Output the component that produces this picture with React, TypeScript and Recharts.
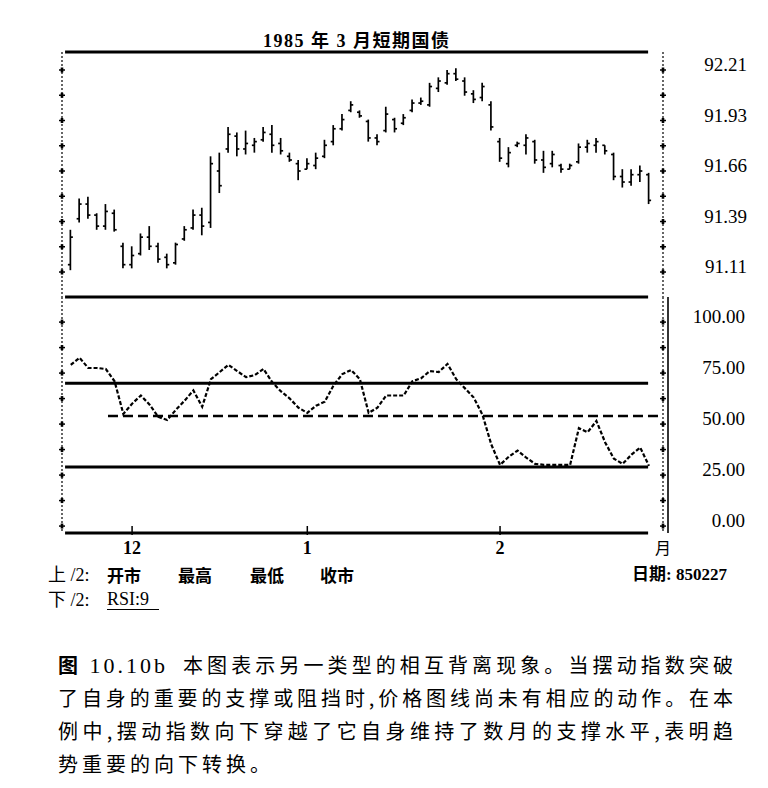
import React from "react";
import { ComposedChart, Bar, Line, XAxis, YAxis, ReferenceLine } from "recharts";

// ---- data ----
const highs = [91.34, 91.51, 91.52, 91.43, 91.48, 91.45, 91.27, 91.25, 91.32, 91.36,
  91.27, 91.21, 91.27, 91.36, 91.45, 91.46, 91.74, 91.76, 91.90, 91.87,
  91.88, 91.84, 91.90, 91.91, 91.84, 91.76, 91.72, 91.73, 91.76, 91.83,
  91.91, 91.97, 92.04, 91.99, 91.94, 91.86, 92.01, 91.95, 91.97, 92.05,
  92.06, 92.14, 92.17, 92.21, 92.22, 92.17, 92.10, 92.14, 92.04, 91.84,
  91.79, 91.82, 91.86, 91.83, 91.77, 91.77, 91.70, 91.70, 91.81, 91.83,
  91.84, 91.80, 91.76, 91.67, 91.67, 91.69, 91.65];
const lows = [91.12, 91.38, 91.40, 91.34, 91.34, 91.33, 91.13, 91.13, 91.20, 91.23,
  91.16, 91.13, 91.15, 91.28, 91.34, 91.31, 91.35, 91.54, 91.76, 91.74,
  91.75, 91.76, 91.82, 91.76, 91.75, 91.71, 91.61, 91.67, 91.67, 91.73,
  91.80, 91.88, 91.98, 91.95, 91.82, 91.80, 91.87, 91.87, 91.91, 91.98,
  92.02, 92.01, 92.09, 92.13, 92.15, 92.07, 92.03, 92.04, 91.88, 91.71,
  91.68, 91.79, 91.75, 91.70, 91.65, 91.68, 91.65, 91.67, 91.70, 91.76,
  91.76, 91.75, 91.61, 91.57, 91.58, 91.60, 91.48];
const opens = [91.15, 91.40, 91.48, 91.42, 91.36, 91.43, 91.25, 91.15, 91.21, 91.30,
  91.25, 91.19, 91.16, 91.29, 91.35, 91.42, 91.38, 91.66, 91.78, 91.85,
  91.78, 91.80, 91.83, 91.86, 91.81, 91.74, 91.70, 91.67, 91.69, 91.74,
  91.82, 91.89, 91.99, 91.98, 91.93, 91.84, 91.88, 91.94, 91.92, 91.99,
  92.03, 92.02, 92.11, 92.14, 92.19, 92.15, 92.08, 92.06, 92.02, 91.82,
  91.70, 91.80, 91.80, 91.82, 91.72, 91.70, 91.69, 91.67, 91.71, 91.79,
  91.80, 91.80, 91.75, 91.63, 91.60, 91.64, 91.64];
const closes = [91.30, 91.48, 91.42, 91.36, 91.44, 91.34, 91.15, 91.20, 91.30, 91.25,
  91.18, 91.15, 91.26, 91.34, 91.42, 91.36, 91.70, 91.58, 91.86, 91.78,
  91.81, 91.82, 91.87, 91.80, 91.77, 91.72, 91.66, 91.70, 91.73, 91.80,
  91.89, 91.94, 92.02, 91.96, 91.84, 91.82, 91.97, 91.89, 91.95, 92.03,
  92.04, 92.12, 92.15, 92.19, 92.16, 92.09, 92.05, 92.12, 91.90, 91.73,
  91.76, 91.81, 91.84, 91.72, 91.68, 91.75, 91.67, 91.69, 91.79, 91.81,
  91.82, 91.77, 91.63, 91.60, 91.64, 91.66, 91.50];
const rsi9 = [79, 82.5, 77.5, 77.5, 77, 71, 55, 60, 64, 59.5,
  53.5, 52, 57, 61.5, 66.5, 58.5, 72, 75.5, 79, 76,
  73, 74, 77, 70.5, 66, 62.5, 58, 55.5, 59, 61,
  69, 74.5, 76.5, 72, 55.5, 58, 64, 64, 64, 71,
  72.5, 76, 75.5, 79.5, 72, 67.5, 63, 54.5, 40, 30,
  34, 37, 33.5, 30.5, 30, 30, 30, 30, 48, 46,
  51.5, 41, 33, 30.5, 35, 38.5, 29.5];

const priceTicks = [91.11, 91.2475, 91.385, 91.5225, 91.66, 91.7975, 91.935, 92.0725, 92.21];
const priceTickLabels = ["91.11", "", "91.39", "", "91.66", "", "91.93", "", "92.21"];
const rsiTicks = [0, 12.5, 25, 37.5, 50, 62.5, 75, 87.5, 100];
const rsiTickLabels = ["0.00", "", "25.00", "", "50.00", "", "75.00", "", "100.00"];
const monthTicks = [8, 28, 50];
const monthLabels = ["12", "1", "2"];
const monthUnit = "月";
const rsiUpper = 70;
const rsiLower = 29;
const rsiSupport = 54;

// ---- layout constants ----
const X_DOMAIN: [number, number] = [0, 68.6];
const PRICE_DOMAIN: [number, number] = [90.974, 92.308];
const RSI_DOMAIN: [number, number] = [-3.4, 112.3];
const FRAME_X0 = 0.35;
const FRAME_X1 = 66.9;
const DASH_X0 = 5.25;
const DASH_X1 = 68.3;

const data = highs.map((h, i) => ({
  idx: i + 1,
  high: h,
  low: lows[i],
  open: opens[i],
  close: closes[i],
  rsi: rsi9[i],
}));

const SERIF = '"Liberation Serif", "Times New Roman", serif';
const CJK = '"Liberation Serif", "Noto Sans CJK SC", serif';
const SANS_CJK = '"Noto Sans CJK SC", sans-serif';

const PriceBarShape = (props: any) => {
  const { x, y, width, height, payload } = props;
  const cx = x + width / 2;
  const top = Math.min(y, y + height);
  const h = Math.abs(height);
  const span = payload.high - payload.low || 1;
  const oy = top + ((payload.high - payload.open) / span) * h;
  const cy = top + ((payload.high - payload.close) / span) * h;
  return (
    <g stroke="#000" strokeWidth={1.7}>
      <line x1={cx} x2={cx} y1={top} y2={top + h} />
      <line x1={cx - 2.5} x2={cx} y1={oy} y2={oy} />
      <line x1={cx} x2={cx + 2.5} y1={cy} y2={cy} />
    </g>
  );
};

const Cross = ({ x, y }: { x: number; y: number }) => (
  <g>
    <line x1={x - 3} x2={x + 3} y1={y} y2={y} stroke="#000" strokeWidth={1.5} />
    <rect x={x - 1.3} y={y - 2.5} width={2.6} height={5} fill="#000" />
  </g>
);

const CrossTick = (props: any) => <Cross x={props.x} y={props.y} />;

const makeLabelTick = (ticks: number[], labels: string[], dx: number, withCross: boolean) => (props: any) => {
  const { x, y, payload } = props;
  const label = labels[ticks.indexOf(payload.value)];
  return (
    <g>
      {withCross ? <Cross x={x} y={y} /> : null}
      {label ? (
        <text x={x + dx} y={y + 1} textAnchor="end" fontFamily={SERIF} fontSize={19} fill="#000">
          {label}
        </text>
      ) : null}
    </g>
  );
};

const MonthTick = (props: any) => {
  const { x, y, payload } = props;
  const i = monthTicks.indexOf(payload.value);
  const label = i >= 0 ? monthLabels[i] : monthUnit;
  return (
    <g>
      {i >= 0 ? <line x1={x} x2={x} y1={y - 7} y2={y + 2} stroke="#000" strokeWidth={1.5} /> : null}
      <text
        x={x}
        y={y + 21}
        textAnchor="middle"
        fontFamily={i >= 0 ? SERIF : SANS_CJK}
        fontSize={i >= 0 ? 18 : 16}
        fontWeight={i >= 0 ? "bold" : "normal"}
        fill="#000"
      >
        {label}
      </text>
    </g>
  );
};

const dottedAxis = { stroke: "#000", strokeWidth: 1.2, strokeDasharray: "2 2" };
const heavy = { stroke: "#000", strokeWidth: 3 };

export default function App() {
  const abs = (left: number, top: number): React.CSSProperties => ({
    position: "absolute",
    left,
    top,
    whiteSpace: "nowrap",
  });
  const justLine = (left: number, top: number, width: number): React.CSSProperties => ({
    position: "absolute",
    left,
    top,
    width,
    fontFamily: SANS_CJK,
    fontSize: 20,
    lineHeight: "33px",
    textAlign: "justify",
    textAlignLast: "justify" as any,
  });
  const legendBold: React.CSSProperties = { fontFamily: SANS_CJK, fontSize: 17, lineHeight: "20px", fontWeight: "bold" };
  return (
    <div style={{ position: "absolute", left: 0, top: 0, width: 768, height: 788, background: "#fff", color: "#000" }}>
      {/* title */}
      <div style={{ ...abs(263, 30), fontFamily: CJK, fontSize: 18, lineHeight: "22px", fontWeight: "bold", letterSpacing: 1.5 }}>
        1985 年 3 月短期国债
      </div>

      {/* price panel */}
      <div style={{ position: "absolute", left: 0, top: 0 }}>
        <ComposedChart width={768} height={300} data={data} margin={{ top: 52, bottom: 3, left: 42, right: 0 }}>
          <XAxis xAxisId="x" dataKey="idx" type="number" domain={X_DOMAIN} hide allowDataOverflow />
          <YAxis
            yAxisId="pl"
            orientation="left"
            width={20}
            type="number"
            domain={PRICE_DOMAIN}
            allowDataOverflow
            ticks={priceTicks}
            axisLine={dottedAxis}
            tickLine={false}
            tickSize={0}
            tickMargin={0}
            tick={CrossTick}
            interval={0}
          />
          <YAxis
            yAxisId="pr"
            orientation="right"
            width={105}
            type="number"
            domain={PRICE_DOMAIN}
            allowDataOverflow
            ticks={priceTicks}
            axisLine={dottedAxis}
            tickLine={false}
            tickSize={0}
            tickMargin={0}
            tick={makeLabelTick(priceTicks, priceTickLabels, 84, true)}
            interval={0}
          />
          <ReferenceLine
            xAxisId="x"
            yAxisId="pr"
            segment={[{ x: FRAME_X0, y: PRICE_DOMAIN[1] }, { x: FRAME_X1, y: PRICE_DOMAIN[1] }]}
            {...heavy}
          />
          <ReferenceLine
            xAxisId="x"
            yAxisId="pr"
            segment={[{ x: FRAME_X0, y: PRICE_DOMAIN[0] }, { x: FRAME_X1, y: PRICE_DOMAIN[0] }]}
            {...heavy}
          />
          <Bar
            xAxisId="x"
            yAxisId="pr"
            dataKey={(d: any) => [d.low, d.high]}
            barSize={4}
            shape={PriceBarShape}
            isAnimationActive={false}
          />
        </ComposedChart>
      </div>

      {/* RSI panel */}
      <div style={{ position: "absolute", left: 0, top: 280 }}>
        <ComposedChart width={768} height={290} data={data} margin={{ top: 17, bottom: 7, left: 42, right: 0 }}>
          <XAxis
            xAxisId="x"
            dataKey="idx"
            type="number"
            domain={X_DOMAIN}
            ticks={[...monthTicks, X_DOMAIN[1]]}
            interval={0}
            axisLine={false}
            tickLine={false}
            tickSize={0}
            tickMargin={0}
            height={30}
            tick={MonthTick}
            allowDataOverflow
          />
          <YAxis
            yAxisId="rl"
            orientation="left"
            width={20}
            type="number"
            domain={RSI_DOMAIN}
            allowDataOverflow
            ticks={rsiTicks}
            axisLine={dottedAxis}
            tickLine={false}
            tickSize={0}
            tickMargin={0}
            tick={CrossTick}
            interval={0}
          />
          <YAxis
            yAxisId="ra"
            orientation="right"
            width={5}
            type="number"
            domain={RSI_DOMAIN}
            allowDataOverflow
            ticks={rsiTicks}
            axisLine={dottedAxis}
            tickLine={false}
            tickSize={0}
            tickMargin={0}
            tick={CrossTick}
            interval={0}
          />
          <YAxis
            yAxisId="rb"
            orientation="right"
            width={100}
            type="number"
            domain={RSI_DOMAIN}
            allowDataOverflow
            ticks={rsiTicks}
            axisLine={{ stroke: "#000", strokeWidth: 1.6 }}
            tickLine={false}
            tickSize={0}
            tickMargin={0}
            tick={makeLabelTick(rsiTicks, rsiTickLabels, 77, false)}
            interval={0}
          />
          <ReferenceLine
            xAxisId="x"
            yAxisId="ra"
            segment={[{ x: FRAME_X0, y: rsiUpper }, { x: FRAME_X1, y: rsiUpper }]}
            {...heavy}
          />
          <ReferenceLine
            xAxisId="x"
            yAxisId="ra"
            segment={[{ x: FRAME_X0, y: rsiLower }, { x: FRAME_X1, y: rsiLower }]}
            {...heavy}
          />
          <ReferenceLine
            xAxisId="x"
            yAxisId="ra"
            segment={[{ x: DASH_X0, y: rsiSupport }, { x: DASH_X1, y: rsiSupport }]}
            stroke="#000"
            strokeWidth={2.5}
            strokeDasharray="10 5"
          />
          <ReferenceLine
            xAxisId="x"
            yAxisId="ra"
            segment={[{ x: FRAME_X0, y: RSI_DOMAIN[0] }, { x: FRAME_X1, y: RSI_DOMAIN[0] }]}
            {...heavy}
          />
          <Line
            xAxisId="x"
            yAxisId="ra"
            dataKey="rsi"
            type="linear"
            stroke="#000"
            strokeWidth={2.2}
            strokeDasharray="4 2"
            dot={false}
            isAnimationActive={false}
          />
        </ComposedChart>
      </div>

      {/* legend / info rows */}
      <div style={{ ...abs(48, 565), fontFamily: CJK, fontSize: 18, lineHeight: "20px" }}>上 /2:</div>
      <div style={{ ...abs(107, 565), ...legendBold }}>开市</div>
      <div style={{ ...abs(178, 565), ...legendBold }}>最高</div>
      <div style={{ ...abs(250, 565), ...legendBold }}>最低</div>
      <div style={{ ...abs(320, 565), ...legendBold }}>收市</div>
      <div style={{ ...abs(632, 565), fontFamily: CJK, fontSize: 17, lineHeight: "20px", fontWeight: "bold" }}>日期: 850227</div>
      <div style={{ ...abs(48, 590), fontFamily: CJK, fontSize: 18, lineHeight: "20px" }}>下 /2:</div>
      <div style={{ ...abs(107, 590), fontFamily: SERIF, fontSize: 18, lineHeight: "19px", width: 52, borderBottom: "1.2px solid #000" }}>RSI:9</div>

      {/* caption */}
      <div style={{ ...abs(58, 648), fontSize: 20, lineHeight: "33px", letterSpacing: 3 }}>
        <span style={{ fontFamily: SANS_CJK, fontWeight: "bold" }}>图</span>
        <span style={{ fontFamily: SERIF, fontSize: 22 }}> 10.10b</span>
      </div>
      <div style={justLine(183, 648, 550)}>本图表示另一类型的相互背离现象。当摆动指数突破</div>
      <div style={justLine(58, 681, 675)}>了自身的重要的支撑或阻挡时,价格图线尚未有相应的动作。在本</div>
      <div style={justLine(58, 714, 675)}>例中,摆动指数向下穿越了它自身维持了数月的支撑水平,表明趋</div>
      <div style={{ ...abs(58, 747), fontFamily: SANS_CJK, fontSize: 20, lineHeight: "33px", letterSpacing: 4 }}>
        势重要的向下转换。
      </div>
    </div>
  );
}
